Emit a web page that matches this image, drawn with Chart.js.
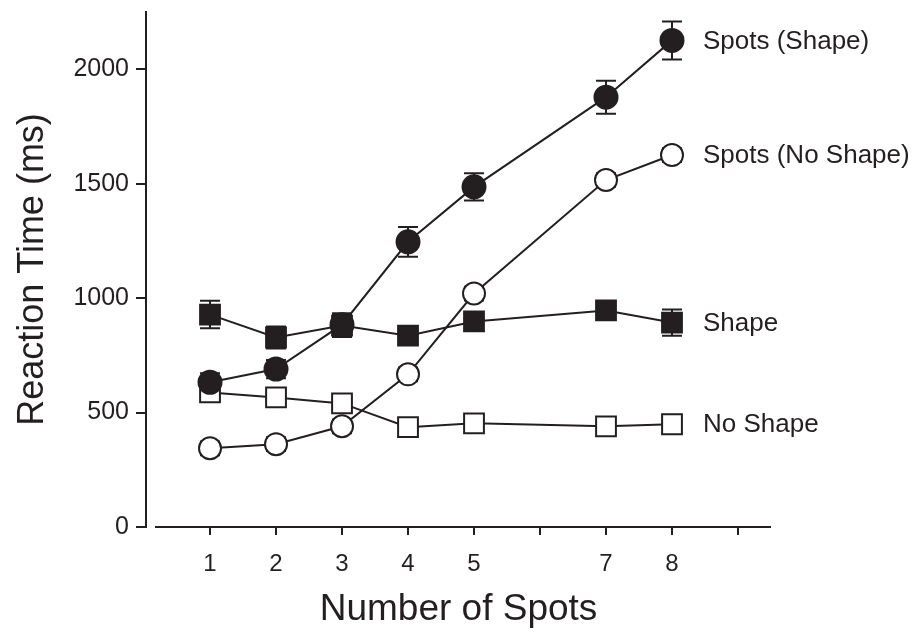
<!DOCTYPE html>
<html lang="en">
<head>
  <meta charset="UTF-8">
  <title>Reaction Time vs Number of Spots</title>
  <script src="https://cdn.jsdelivr.net/npm/chart.js@4"></script>
  <style>
    * { margin: 0; padding: 0; box-sizing: border-box; }
    body { background: #fff; }
    .wrap { width: 923px; height: 632px; position: relative; }
  </style>
</head>
<body>
  <div class="wrap">
    <canvas id="chart" width="923" height="632"></canvas>
  </div>
  <script>
    // data
    const spots = [1, 2, 3, 4, 5, 7, 8];
    const spotsShape = [632, 690, 884, 1246, 1486, 1878, 2126];
    const spotsShapeErr = [40, 40, 50, 65, 60, 72, 83];
    const spotsNoShape = [344, 362, 440, 667, 1020, 1516, 1625];
    const spotsNoShapeErr = [30, 30, 30, 30, 30, 30, 30];
    const shape = [928, 828, 880, 836, 898, 946, 893];
    const shapeErr = [60, 48, 50, 30, 35, 30, 57];
    const noShape = [588, 566, 540, 436, 453, 440, 449];
    const noShapeErr = [25, 25, 25, 25, 25, 25, 25];
    const seriesNames = ['Spots (Shape)', 'Spots (No Shape)', 'Shape', 'No Shape'];
    const xTicks = [1, 2, 3, 4, 5, 6, 7, 8, 9];
    const xTickLabels = ['1', '2', '3', '4', '5', '', '7', '8', ''];
    const yTicks = [0, 500, 1000, 1500, 2000];

    const ink = '#231f20';
    const font = '"Liberation Sans", Arial, sans-serif';
    const pts = arr => arr.map((v, i) => ({ x: spots[i], y: v }));

    const errorBars = {
      id: 'errorBars',
      beforeDatasetsDraw(chart) {
        const { ctx, scales: { x, y } } = chart;
        ctx.save();
        ctx.strokeStyle = ink;
        ctx.lineWidth = 2;
        chart.data.datasets.forEach(ds => {
          ds.err.forEach((e, i) => {
            const px = x.getPixelForValue(spots[i]);
            const top = y.getPixelForValue(ds.raw[i] + e);
            const bot = y.getPixelForValue(ds.raw[i] - e);
            ctx.beginPath();
            ctx.moveTo(px, top); ctx.lineTo(px, bot);
            ctx.moveTo(px - 10, top); ctx.lineTo(px + 10, top);
            ctx.moveTo(px - 10, bot); ctx.lineTo(px + 10, bot);
            ctx.stroke();
          });
        });
        ctx.restore();
      }
    };

    const extras = {
      id: 'extras',
      afterDraw(chart) {
        const { ctx, chartArea, scales: { x, y } } = chart;
        ctx.save();
        // x axis line, detached from the y axis
        ctx.strokeStyle = ink;
        ctx.lineWidth = 2;
        ctx.beginPath();
        ctx.moveTo(chartArea.left + 9, chartArea.bottom);
        ctx.lineTo(chartArea.right, chartArea.bottom);
        ctx.stroke();
        // series labels at the right end of each line
        ctx.fillStyle = ink;
        ctx.font = '26px ' + font;
        ctx.textBaseline = 'middle';
        chart.data.datasets.forEach(ds => {
          const last = ds.raw.length - 1;
          ctx.fillText(ds.label, x.getPixelForValue(spots[last]) + 31, y.getPixelForValue(ds.raw[last]) + 1);
        });
        ctx.restore();
      }
    };

    function series(label, values, err, style, filled, radius) {
      return {
        label, raw: values, err,
        data: pts(values),
        showLine: true,
        clip: false,
        borderColor: ink,
        borderWidth: 2,
        pointStyle: style,
        pointRadius: radius,
        pointBorderWidth: 2,
        pointBorderColor: ink,
        pointBackgroundColor: filled ? ink : '#fff',
        tension: 0
      };
    }

    new Chart(document.getElementById('chart'), {
      type: 'scatter',
      data: {
        datasets: [
          series(seriesNames[0], spotsShape, spotsShapeErr, 'circle', true, 11.5),
          series(seriesNames[1], spotsNoShape, spotsNoShapeErr, 'circle', false, 11),
          series(seriesNames[2], shape, shapeErr, 'rect', true, 14),
          series(seriesNames[3], noShape, noShapeErr, 'rect', false, 14)
        ]
      },
      options: {
        responsive: false,
        animation: false,
        layout: { autoPadding: false, padding: { top: 6, right: 152, left: 0, bottom: 0 } },
        plugins: { legend: { display: false }, tooltip: { enabled: false } },
        scales: {
          x: {
            type: 'linear', min: 0.03, max: 9.5,
            afterBuildTicks: s => { s.ticks = xTicks.map(v => ({ value: v })); },
            afterFit: s => { s.height = 105; },
            border: { display: false },
            grid: { drawOnChartArea: false, drawTicks: true, tickLength: 8, color: ink, lineWidth: 2 },
            ticks: {
              color: ink, padding: 15, font: { family: font, size: 24 },
              callback: (v) => xTickLabels[xTicks.indexOf(v)]
            },
            title: {
              display: true, text: 'Number of Spots', color: ink,
              font: { family: font, size: 37 }, padding: { top: 0, bottom: 0 }
            }
          },
          y: {
            min: 0, max: 2250,
            afterBuildTicks: s => { s.ticks = yTicks.map(v => ({ value: v })); },
            afterFit: s => { s.width = 146; },
            border: { display: true, color: ink, width: 2 },
            grid: { drawOnChartArea: false, drawTicks: true, tickLength: 10, color: ink, lineWidth: 2 },
            ticks: {
              color: ink, padding: 7, font: { family: font, size: 25, lineHeight: 0.4 },
              callback: v => String(v)
            },
            title: {
              display: true, text: 'Reaction Time (ms)', color: ink,
              font: { family: font, size: 36 }, padding: { top: 11, bottom: 0 }
            }
          }
        }
      },
      plugins: [errorBars, extras]
    });
  </script>
</body>
</html>
